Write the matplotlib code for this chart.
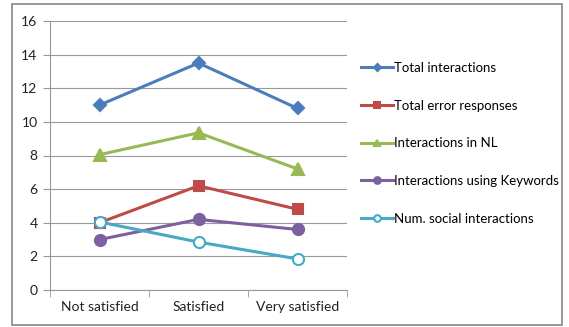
import matplotlib
matplotlib.use('Agg')
import matplotlib.pyplot as plt
from matplotlib.patches import Rectangle

plt.rcParams['font.family'] = ['Lato', 'DejaVu Sans']

categories = ['Not satisfied', 'Satisfied', 'Very satisfied']
total_interactions = [11.0, 13.5, 10.8]
total_errors = [4.0, 6.2, 4.8]
interactions_nl = [8.05, 9.35, 7.2]
interactions_keywords = [3.0, 4.2, 3.6]
social_interactions = [4.05, 2.85, 1.85]

series = [
    ('Total interactions', total_interactions, '#4A7EBB', 'D', 6, '#4A7EBB'),
    ('Total error responses', total_errors, '#BE4B48', 's', 7, '#BE4B48'),
    ('Interactions in NL', interactions_nl, '#98B954', '^', 8, '#98B954'),
    ('Interactions using Keywords', interactions_keywords, '#7D60A0', 'o', 8, '#7D60A0'),
    ('Num. social interactions', social_interactions, '#46AAC5', 'o', 8, 'white'),
]

fig = plt.figure(figsize=(5.69, 3.27), dpi=100)
ax = fig.add_axes([50 / 569, 1 - 290 / 327, 297 / 569, 269 / 327])

x = list(range(len(categories)))
for label, vals, col, mk, ms, fc in series:
    ax.plot(x, vals, color=col, lw=2.2, marker=mk, ms=ms, mfc=fc, mec=col,
            mew=1.5, label=label)

ax.set_xlim(-0.5, 2.5)
ax.set_ylim(0, 16)
ax.set_yticks(range(0, 17, 2))
ax.set_xticks(x)
ax.set_xticklabels(categories)
ax.set_xticks([-0.5, 0.5, 1.5, 2.5], minor=True)
ax.tick_params(axis='x', which='major', length=0, pad=8)
ax.tick_params(axis='x', which='minor', length=5, color='#999999')
ax.tick_params(axis='y', length=5, color='#999999', pad=4)
ax.tick_params(labelsize=10, labelcolor='#222222')
ax.yaxis.grid(True, color='#999999', lw=0.8)
ax.set_axisbelow(True)
for s in ['top', 'right']:
    ax.spines[s].set_visible(False)
for s in ['left', 'bottom']:
    ax.spines[s].set_color('#999999')

fig.legend(loc='upper left', bbox_to_anchor=(349 / 569, 1 - 50 / 327),
           frameon=False, fontsize=9.5, handlelength=2.4, handletextpad=0.1,
           labelspacing=1.95, markerscale=0.6)

fig.patches.append(Rectangle((12 / 569, 2 / 327), 550 / 569, 321 / 327,
                             transform=fig.transFigure, fill=False,
                             edgecolor='#888888', lw=1.2))

fig.savefig('out.png', dpi=100)
